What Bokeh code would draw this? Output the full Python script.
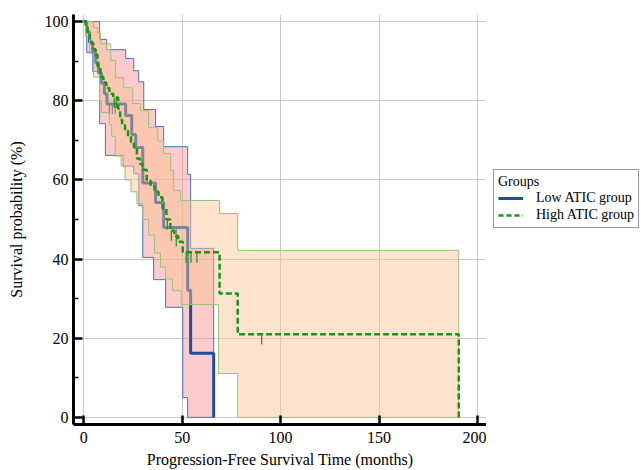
import numpy as np
from bokeh.plotting import figure
from bokeh.layouts import row
from bokeh.models import Legend, LegendItem, FixedTicker, Range1d
from bokeh.embed import file_html
from bokeh.resources import INLINE

# ---- data ----
x_ticks = [0, 50, 100, 150, 200]
y_ticks = [0, 20, 40, 60, 80, 100]
y_minor = [10, 30, 50, 70, 90]

low_t = [0, 1.5, 3, 4.5, 6, 7.5, 9, 10.5, 11.8, 21.3, 24.4, 26.4, 30.0, 36.5, 40.6, 52.8, 54.3, 66.0]
low_s = [100, 97.4, 94.8, 92.2, 89.6, 87.0, 84.4, 81.8, 79.2, 76.3, 71.5, 68.2, 59.2, 54.3, 48.0, 32.1, 16.2, 0]
low_up_t = [0, 8.1, 11.7, 21.3, 25.4, 27.9, 30.5, 36.5, 40.6, 52.8, 54.3, 66.0]
low_up_s = [100, 95.5, 92.9, 90.7, 87.6, 84.8, 77.8, 73.5, 68.4, 61.4, 42.7, 0]
low_lo_t = [0, 1.5, 4.6, 8.1, 11.0, 20.0, 25.4, 28.0, 30.0, 35.5, 41.6, 50.3, 52.8, 66.0]
low_lo_s = [100, 92.2, 87.4, 74.2, 66.2, 63.5, 61.6, 53.5, 40.4, 34.8, 27.8, 5.0, 0, 0]
low_cens = [13.0, 14.5, 16.0, 47.0]

high_t = [0, 1, 2, 3, 4, 5, 6, 7, 8.5, 10, 11.5, 13, 15, 17.5, 18.5, 19.5, 21, 22.5, 24, 25.5,
          27, 28.5, 30, 32, 34, 36, 38, 40, 42, 44, 46, 48, 50.3, 69.0, 78.2, 190.5]
high_s = [100, 98.6, 97.2, 95.8, 94.4, 93.0, 91.6, 88.8, 86.0, 84.6, 83.2, 81.8, 80.8, 78.0, 75.2,
          73.8, 72.4, 71.0, 69.6, 68.2, 65.4, 64.0, 62.6, 59.8, 58.4, 57.0, 55.6, 52.8, 50.0, 47.2,
          45.8, 44.4, 41.7, 31.3, 21.0, 0]
high_up_t = [0, 5.0, 7.1, 8.6, 13.7, 16.2, 20.3, 24.9, 28.9, 33.0, 37.6, 40.6, 44.2, 45.7, 49.2, 69.0, 78.2, 190.5]
high_up_s = [100, 98.5, 97.0, 94.4, 90.2, 85.9, 83.3, 79.3, 77.5, 73.2, 69.9, 66.7, 62.4, 57.3, 54.8, 51.5, 42.2, 0]
high_lo_t = [0, 1, 3, 5, 8, 9, 13, 14.2, 16, 19, 21, 24, 27, 30, 33, 36, 39, 41.6, 45, 49.5, 68.5, 78.2, 190.5]
high_lo_s = [100, 96, 92, 86, 80, 77, 74, 71, 66, 63.5, 60, 57, 54, 50, 46, 41.5, 38, 35, 32, 28.5, 11.1, 0, 0]
high_cens = [15.5, 16.5, 42.5, 44.5, 47.0, 52.0, 54.5, 57.5, 90.4]

groups = ["Low ATIC group", "High ATIC group"]

# ---- helpers ----
def step_xy(t, s):
    xs, ys = [t[0]], [s[0]]
    for i in range(1, len(t)):
        xs += [t[i], t[i]]
        ys += [s[i - 1], s[i]]
    return xs, ys

def surv_at(t, s, times):
    idx = np.searchsorted(np.array(t), np.array(times), side="right") - 1
    return [s[i] for i in idx]

SERIF = "Liberation Serif"
LOW_COL, HIGH_COL = "#1c4fa0", "#129812"

p = figure(width=486, height=470, output_backend="svg", toolbar_location=None,
           x_range=Range1d(-5.2, 204.6), y_range=Range1d(-1.8, 101.8),
           min_border_left=73, min_border_top=14, min_border_right=0, min_border_bottom=40)
p.outline_line_color = None
p.background_fill_color = "white"

# low group CI band + lines
ux, uy = step_xy(low_up_t, low_up_s)
lx, ly = step_xy(low_lo_t, low_lo_s)
p.patch(ux + lx[::-1], uy + ly[::-1], fill_color="#f98c8c", fill_alpha=0.45, line_color=None)
p.line(ux, uy, line_color="#4a72c0", line_width=1)
p.line(lx, ly, line_color="#4a72c0", line_width=1)
p.step(low_t, low_s, mode="after", line_color=LOW_COL, line_width=3)
lc = surv_at(low_t, low_s, low_cens)
p.segment(low_cens, lc, low_cens, [v - 2.6 for v in lc], line_color=LOW_COL, line_width=1.2)

# high group CI band + lines
ux, uy = step_xy(high_up_t, high_up_s)
lx, ly = step_xy(high_lo_t, high_lo_s)
p.patch(ux + lx[::-1], uy + ly[::-1], fill_color="#fcc393", fill_alpha=0.45, line_color=None)
p.line(ux, uy, line_color="#98c275", line_width=1)
p.line(lx, ly, line_color="#98c275", line_width=1)
p.step(high_t, high_s, mode="after", line_color=HIGH_COL, line_width=2.5, line_dash="6 3")
hc = surv_at(high_t, high_s, high_cens)
p.segment(high_cens, hc, high_cens, [v - 2.6 for v in hc], line_color=HIGH_COL, line_width=1.2)

# axes
for ax in (p.xaxis[0], p.yaxis[0]):
    ax.axis_line_width = 3
    ax.axis_line_color = "black"
    ax.major_tick_in = 9
    ax.major_tick_out = 0
    ax.major_tick_line_width = 2.5
    ax.major_tick_line_color = "black"
    ax.major_label_text_font = SERIF
    ax.major_label_text_font_size = "16px"
    ax.major_label_text_color = "black"
    ax.axis_label_text_font = SERIF
    ax.axis_label_text_font_size = "16px"
    ax.axis_label_text_font_style = "normal"
    ax.axis_label_text_color = "black"

p.xaxis.ticker = FixedTicker(ticks=x_ticks)
p.xaxis.minor_tick_line_color = None
p.xaxis.major_label_standoff = 7
p.xaxis.axis_label = "Progression-Free Survival Time (months)"
p.xaxis.axis_label_standoff = 5

p.yaxis.ticker = FixedTicker(ticks=y_ticks, minor_ticks=y_minor)
p.yaxis.minor_tick_in = 5
p.yaxis.minor_tick_out = 0
p.yaxis.minor_tick_line_width = 1.5
p.yaxis.minor_tick_line_color = "black"
p.yaxis.major_label_standoff = 5
p.yaxis.axis_label = "Survival probability (%)"
p.yaxis.axis_label_standoff = 17

p.xgrid.ticker = FixedTicker(ticks=x_ticks)
p.ygrid.ticker = FixedTicker(ticks=y_ticks)
p.grid.grid_line_color = "#c8c8c8"
p.grid.grid_line_width = 1

# ---- legend panel (separate figure to the right) ----
lf = figure(width=155, height=470, output_backend="svg", toolbar_location=None,
            x_axis_type=None, y_axis_type=None, x_range=Range1d(0, 1), y_range=Range1d(0, 1),
            min_border=0)
lf.outline_line_color = None
# same series drawn out of this panel's visible range: only used for the legend glyphs
r_low = lf.step(low_t, low_s, mode="after", line_color=LOW_COL, line_width=3)
r_high = lf.step(high_t, high_s, mode="after", line_color=HIGH_COL, line_width=2.5, line_dash="5 3")

legend = Legend(items=[LegendItem(label=groups[0], renderers=[r_low]),
                       LegendItem(label=groups[1], renderers=[r_high])],
                title="Groups", location=(7, 196))
legend.title_text_font = SERIF
legend.title_text_font_size = "14px"
legend.title_text_font_style = "normal"
legend.title_text_color = "black"
legend.title_standoff = 0
legend.label_text_font = SERIF
legend.label_text_font_size = "14px"
legend.label_text_color = "black"
legend.label_height = 12
legend.glyph_height = 12
legend.glyph_width = 25
legend.label_standoff = 13
legend.spacing = 1
legend.padding = 4
legend.margin = 0
legend.border_line_color = "#333333"
legend.border_line_width = 1.5
legend.background_fill_color = "white"
lf.add_layout(legend, "center")

layout = row(p, lf)
open("out.html", "w").write(file_html(layout, INLINE))
